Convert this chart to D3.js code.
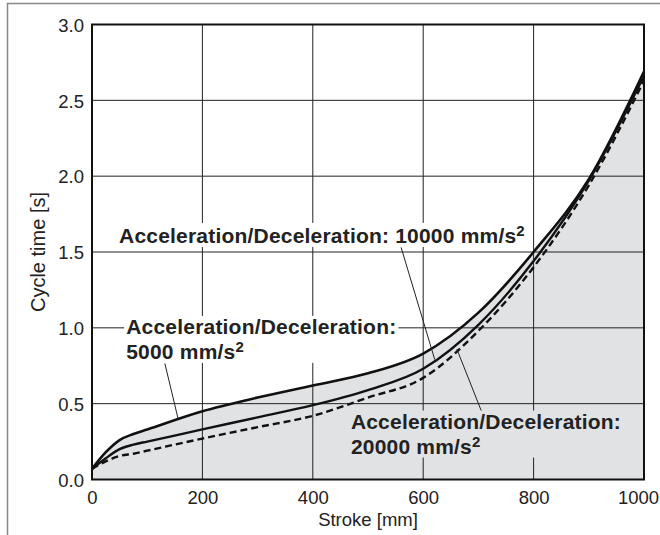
<!DOCTYPE html>
<html>
<head>
<meta charset="utf-8">
<style>
  body { margin: 0; background: #fff; }
  svg { display: block; font-family: "Liberation Sans", Arial, sans-serif; }
  .tick text { font-size: 18.5px; fill: #222; }
  .lbl { font-size: 21px; font-weight: bold; fill: #222; letter-spacing: 0.2px; }
</style>
<script src="https://cdn.jsdelivr.net/npm/d3@7/dist/d3.min.js"></script>
</head>
<body>
<script>
// data
var stroke   = [0, 25, 50, 75, 100, 200, 300, 400, 500, 600, 700, 800, 900, 1000];
var acc5000  = [0.07, 0.18, 0.26, 0.30, 0.33, 0.45, 0.54, 0.62, 0.70, 0.83, 1.10, 1.50, 1.98, 2.69];
var acc10000 = [0.07, 0.14, 0.20, 0.23, 0.25, 0.33, 0.41, 0.49, 0.59, 0.73, 1.02, 1.44, 1.97, 2.66];
var acc20000 = [0.07, 0.12, 0.155, 0.17, 0.19, 0.27, 0.345, 0.42, 0.54, 0.67, 0.98, 1.40, 1.94, 2.63];

var xTicks = [0, 200, 400, 600, 800, 1000];
var yTicks = [0, 0.5, 1.0, 1.5, 2.0, 2.5, 3.0];

// annotations: text lines, anchor (data units), background, leader line
var notes = [
  { lines: [["Acceleration/Deceleration: 10000 mm/s", "2"]], x: 49, y: 1.56,
    bg: "#fff", from: [560, 1.53], to: [621, 0.79] },
  { lines: [["Acceleration/Deceleration:", ""], ["5000 mm/s", "2"]], x: 62, y: 0.96,
    bg: "#fff", from: [132, 0.765], to: [156, 0.40] },
  { lines: [["Acceleration/Deceleration:", ""], ["20000 mm/s", "2"]], x: 469, y: 0.336,
    bg: "#e1e2e4", from: [705, 0.455], to: [661, 0.86] }
];

var W = 660, H = 535;
var margin = {top: 24.5, right: 16, bottom: 55.5, left: 92};
var width  = W - margin.left - margin.right,
    height = H - margin.top - margin.bottom;

var x = d3.scaleLinear().domain([0, 1000]).range([0, width]);
var y = d3.scaleLinear().domain([0, 3]).range([height, 0]);

var svg = d3.select("body").append("svg")
    .attr("width", W).attr("height", H);

// outer frame (left + top only)
svg.append("path")
    .attr("d", `M7.5,${H} V3.5 H${W}`)
    .attr("fill", "none").attr("stroke", "#888").attr("stroke-width", 1.5);

var g = svg.append("g")
    .attr("transform", `translate(${margin.left},${margin.top})`);

var pts = function(vals) { return stroke.map((s, i) => [s, vals[i]]); };

// shaded area under the 5000 curve
g.append("path")
    .datum(pts(acc5000))
    .attr("fill", "#e1e2e4")
    .attr("d", d3.area().curve(d3.curveMonotoneX)
        .x(d => x(d[0])).y0(y(0)).y1(d => y(d[1])));

// grid
g.append("g")
    .selectAll("line.v").data(xTicks.slice(1, -1)).enter().append("line")
    .attr("x1", d => x(d)).attr("x2", d => x(d))
    .attr("y1", 0).attr("y2", height)
    .attr("stroke", "#222").attr("stroke-width", 1);
g.append("g")
    .selectAll("line.h").data(yTicks.slice(1, -1)).enter().append("line")
    .attr("x1", 0).attr("x2", width)
    .attr("y1", d => y(d)).attr("y2", d => y(d))
    .attr("stroke", "#222").attr("stroke-width", 1);

// label boxes go here so they cover the grid but not the curves
var boxLayer = g.append("g");

// curves
var line = d3.line().curve(d3.curveMonotoneX).x(d => x(d[0])).y(d => y(d[1]));
g.append("path").datum(pts(acc5000)).attr("d", line)
    .attr("fill", "none").attr("stroke", "#111").attr("stroke-width", 2.6);
g.append("path").datum(pts(acc10000)).attr("d", line)
    .attr("fill", "none").attr("stroke", "#111").attr("stroke-width", 2.4);
g.append("path").datum(pts(acc20000)).attr("d", line)
    .attr("fill", "none").attr("stroke", "#111").attr("stroke-width", 2.4)
    .attr("stroke-dasharray", "7,4");

// axes
var xAxis = d3.axisBottom(x).tickValues(xTicks).tickSize(0).tickPadding(11)
    .tickFormat(d3.format("d"));
var gx = g.append("g").attr("transform", `translate(0,${height})`).call(xAxis);
gx.select(".domain").remove();
// keep the last label inside the page
gx.selectAll(".tick text").filter(d => d === 1000).attr("dx", -6);

var yAxis = d3.axisLeft(y).tickValues(yTicks).tickSize(0).tickPadding(8)
    .tickFormat(d3.format(".1f"));
var gy = g.append("g").call(yAxis);
gy.select(".domain").remove();
gy.selectAll(".tick text").attr("dy", "0.36em");

// plot border
g.append("rect")
    .attr("width", width).attr("height", height)
    .attr("fill", "none").attr("stroke", "#111").attr("stroke-width", 2);

// axis titles
svg.append("text")
    .attr("x", margin.left + width / 2).attr("y", 526)
    .attr("text-anchor", "middle").attr("font-size", 18.5).attr("fill", "#222")
    .text("Stroke [mm]");
svg.append("text")
    .attr("transform", `translate(45,252) rotate(-90)`)
    .attr("text-anchor", "middle").attr("font-size", 20).attr("fill", "#222")
    .text("Cycle time [s]");

// annotations
notes.forEach(function(n) {
  var t = g.append("text").attr("class", "lbl")
      .attr("x", x(n.x)).attr("y", y(n.y));
  n.lines.forEach(function(l, i) {
    t.append("tspan").attr("x", x(n.x)).attr("dy", i ? 25 : 0).text(l[0]);
    if (l[1]) {
      t.append("tspan").attr("font-size", "15px").attr("dy", -7).text(l[1]);
      t.append("tspan").attr("dy", 7).text("");
    }
  });
  var bb = t.node().getBBox();
  boxLayer.append("rect")
      .attr("x", bb.x - 2).attr("y", bb.y + 1)
      .attr("width", bb.width + 4).attr("height", bb.height - 1)
      .attr("fill", n.bg);
  g.append("line")
      .attr("x1", x(n.from[0])).attr("y1", y(n.from[1]))
      .attr("x2", x(n.to[0])).attr("y2", y(n.to[1]))
      .attr("stroke", "#222").attr("stroke-width", 1);
});
</script>
</body>
</html>
